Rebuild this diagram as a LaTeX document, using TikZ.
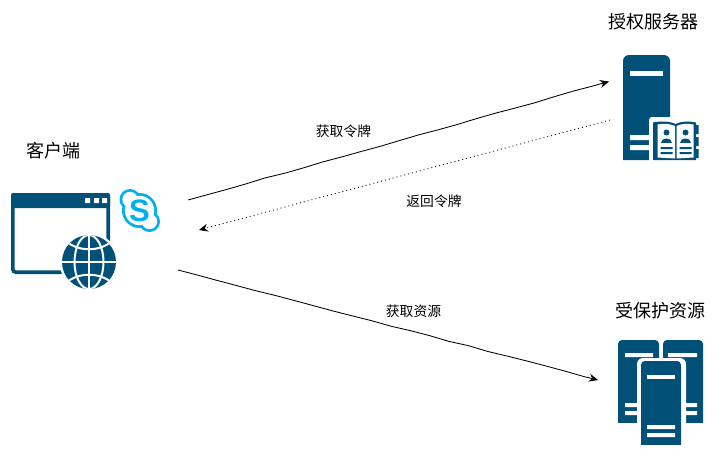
\documentclass[tikz,border=0pt]{standalone}
\usepackage{fontspec}
\setmainfont{Noto Sans CJK SC}
\newfontfamily\logofont{Liberation Sans}
\usetikzlibrary{arrows.meta,decorations.pathmorphing}
\definecolor{icondark}{HTML}{005078}
\definecolor{skypeblue}{HTML}{00AFF0}
\tikzset{
  title/.style={font=\fontsize{18}{20}\selectfont,text=black,inner sep=0pt},
  flowlabel/.style={font=\fontsize{13.8}{16}\selectfont,text=black,inner sep=0pt},
  wobble/.style={decorate,decoration={random steps,segment length=20pt,amplitude=0.45pt,post length=4pt}},
  flow/.style={draw=black,line width=0.85pt,wobble,-{Stealth[length=9pt,width=8pt]}},
  back/.style={draw=black,line width=0.8pt,dash pattern=on 1pt off 3pt,-{Stealth[length=9pt,width=8pt]}},
  dark/.style={fill=icondark,draw=none},
  bar/.style={fill=white,draw=none},
}
\begin{document}
\begin{tikzpicture}[x=1pt,y=-1pt]
\useasboundingbox (0,0) rectangle (726,456);
\fill[white] (0,0) rectangle (726,456);

% titles
\node[title] (tclient) at (53.5,151) {客户端};
\node[title] (tauth) at (653.5,22) {授权服务器};
\node[title] (tres) at (660.5,311) {受保护资源};

% browser window
\draw[icondark,line width=3.6pt,rounded corners=3pt] (12.8,194.8) rectangle (108.2,272.2);
\fill[icondark,rounded corners=2pt] (11,193) rectangle (110,208);
\fill[white] (85,198) rectangle (90,203) (94,198) rectangle (99,203) (102,198) rectangle (107,203);

% globe
\fill[white] (89,262) circle (29.5);
\begin{scope}
  \clip (89,262) circle (27);
  \fill[icondark] (62,235) rectangle (116,289);
  \draw[white,line width=2pt] (89,235) -- (89,289);
  \draw[white,line width=2pt] (89,262) ellipse (14.5 and 27);
  \draw[white,line width=2pt] (62,262) -- (116,262);
  \draw[white,line width=2pt] (66,241) .. controls (78,252) and (100,252) .. (112,241);
  \draw[white,line width=2pt] (66,283) .. controls (78,272) and (100,272) .. (112,283);
\end{scope}

% skype logo
\begin{scope}
  \fill[skypeblue] (139.5,210.5) circle (17.5) (130,199.5) circle (10.5) (149.5,221.5) circle (10.5);
  \fill[white] (139.5,210.5) circle (14.7) (130,199.5) circle (7.7) (149.5,221.5) circle (7.7);
  \node[inner sep=0pt,text=skypeblue,font=\logofont\bfseries\fontsize{31}{31}\selectfont] (skype) at (139.5,210.5) {S};
\end{scope}

% authorization server
\path[dark] (623,160) -- (623,61) arc[start angle=180,end angle=270,radius=6] -- (664,55) arc[start angle=270,end angle=360,radius=6] -- (670,160) -- cycle;
\fill[bar] (630,71) rectangle (663,76);
\fill[bar] (630,135) rectangle (652,140) (630,145) rectangle (652,150);
\fill[white,rounded corners=3pt] (649,117) rectangle (702,164);
% book
\fill[icondark] (653,122.5) .. controls (660,121) and (670,121) .. (675.5,124) .. controls (681,121) and (690,121) .. (696,122.5) -- (696,160) -- (653,160) -- cycle;
\fill[icondark] (696,125) rectangle (698.5,134) (696,137) rectangle (698.5,146) (696,149) rectangle (698.5,158);
\fill[white] (657.5,124.5) .. controls (663,123.5) and (670,123.5) .. (675,126) -- (675,158.5) -- (657.5,157.5) -- cycle;
\fill[white] (693.5,124.5) .. controls (688,123.5) and (681,123.5) .. (676.5,126) -- (676.5,158.5) -- (693.5,157.5) -- cycle;
\foreach \px in {666.5,685.5}{
  \fill[icondark] (\px,132.5) circle (3);
  \fill[icondark] (\px-5.5,142.5) .. controls (\px-5.5,137) and (\px+5.5,137) .. (\px+5.5,142.5) -- cycle;
  \fill[icondark] (\px-6,147) rectangle (\px+6,149) (\px-6,152) rectangle (\px+6,154);
}

% protected resource servers
\path[dark,rounded corners=4pt] (618,430) -- (618,340) -- (659,340) -- (659,430) -- cycle;
\path[dark,rounded corners=4pt] (663,430) -- (663,340) -- (703,340) -- (703,430) -- cycle;
\fill[white] (615,423) rectangle (706,432);
\fill[bar] (625,353) rectangle (653,357) (668,353) rectangle (697,357);
\fill[bar] (625,403) rectangle (653,407) (625,411) rectangle (653,415);
\fill[bar] (668,403) rectangle (697,407) (668,411) rectangle (697,415);
\fill[white,rounded corners=6pt] (637,358) rectangle (686,460);
\path[dark,rounded corners=4pt] (641,361) -- (681,361) -- (681,455) -- (641,455) -- cycle;
\fill[white] (637,445) rectangle (686,456);
\fill[bar] (647,375) rectangle (675,379);
\fill[bar] (647,425) rectangle (675,429) (647,433) rectangle (675,437);

% connector ends
\coordinate (clientA) at (188,200);
\coordinate (authA) at (609,81.5);
\coordinate (authB) at (610,120);
\coordinate (clientB) at (199,230);
\coordinate (clientC) at (178,270);
\coordinate (resC) at (598,380);

\draw[flow] (clientA) -- (authA);
\draw[back] (authB) -- (clientB);
\draw[flow] (clientC) -- (resC);

% labels
\node[flowlabel] (l1) at (343.5,131) {获取令牌};
\node[flowlabel] (l2) at (434,201) {返回令牌};
\node[flowlabel] (l3) at (413.5,311) {获取资源};
\end{tikzpicture}
\end{document}
